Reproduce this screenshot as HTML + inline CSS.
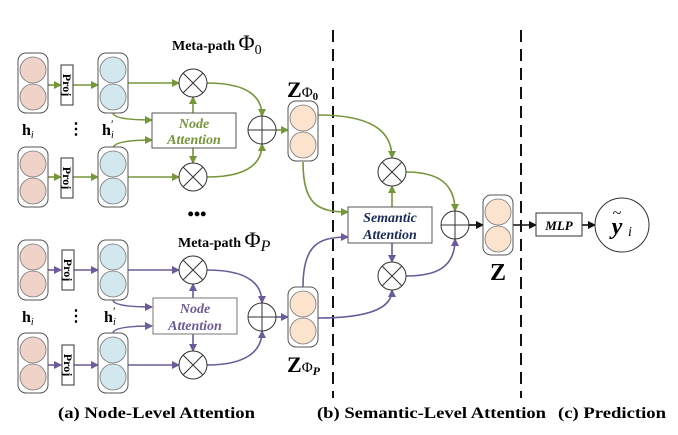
<!DOCTYPE html>
<html><head><meta charset="utf-8"><style>
html,body{margin:0;padding:0;background:#fff;width:678px;height:435px;overflow:hidden}
svg{display:block}
text{font-family:"Liberation Serif",serif}
</style></head><body>
<svg width="678" height="435" viewBox="0 0 678 435" xmlns="http://www.w3.org/2000/svg">
<defs>
<marker id="ag" markerWidth="8" markerHeight="8" refX="7" refY="4" orient="auto" markerUnits="userSpaceOnUse"><path d="M0,0 L8,4 L0,8 z" fill="#76963a"/></marker>
<marker id="ap" markerWidth="8" markerHeight="8" refX="7" refY="4" orient="auto" markerUnits="userSpaceOnUse"><path d="M0,0 L8,4 L0,8 z" fill="#6b5b9a"/></marker>
<marker id="ak" markerWidth="8" markerHeight="8" refX="7" refY="4" orient="auto" markerUnits="userSpaceOnUse"><path d="M0,0 L8,4 L0,8 z" fill="#111"/></marker>
<g id="pk"><rect x="0" y="0" width="30" height="60" rx="8" fill="#fff" stroke="#555" stroke-width="1"/><circle cx="15" cy="17" r="13" fill="#efd3c9" stroke="#777" stroke-width="0.8"/><circle cx="15" cy="44" r="13" fill="#efd3c9" stroke="#777" stroke-width="0.8"/></g>
<g id="bl"><rect x="0" y="0" width="30" height="60" rx="8" fill="#fff" stroke="#555" stroke-width="1"/><circle cx="15" cy="17" r="13" fill="#d3e7ee" stroke="#777" stroke-width="0.8"/><circle cx="15" cy="44" r="13" fill="#d3e7ee" stroke="#777" stroke-width="0.8"/></g>
<g id="pe"><rect x="0" y="0" width="30" height="60" rx="8" fill="#fff" stroke="#555" stroke-width="1"/><circle cx="15" cy="17" r="13" fill="#fbe3cd" stroke="#777" stroke-width="0.8"/><circle cx="15" cy="44" r="13" fill="#fbe3cd" stroke="#777" stroke-width="0.8"/></g>
<g id="ot"><circle cx="0" cy="0" r="14" fill="#fff" stroke="#333" stroke-width="1"/><path d="M-10,-10 L10,10 M-10,10 L10,-10" stroke="#333" stroke-width="1"/></g>
<g id="op"><circle cx="0" cy="0" r="14" fill="#fff" stroke="#333" stroke-width="1"/><path d="M-14,0 L14,0 M0,-14 L0,14" stroke="#333" stroke-width="1"/></g>
</defs>

<line x1="333" y1="30" x2="333" y2="398" stroke="#111" stroke-width="2" stroke-dasharray="12,7"/>
<line x1="521" y1="30" x2="521" y2="398" stroke="#111" stroke-width="2" stroke-dasharray="12,7"/>

<!-- TOP GROUP -->
<text x="172" y="50" font-size="14" font-weight="bold">Meta-path <tspan font-size="22" font-weight="normal">Φ</tspan><tspan font-size="14" font-weight="normal" dy="4">0</tspan></text>
<g fill="none" stroke="#76963a" stroke-width="1.6">
<line x1="48" y1="85" x2="61" y2="85" marker-end="url(#ag)"/>
<line x1="73" y1="85" x2="98" y2="85" marker-end="url(#ag)"/>
<line x1="128" y1="83" x2="179" y2="83" marker-end="url(#ag)"/>
<path d="M113,113 Q114,120 152,120" marker-end="url(#ag)"/>
<path d="M113,148 Q114,140 152,140" marker-end="url(#ag)"/>
<line x1="48" y1="177" x2="61" y2="177" marker-end="url(#ag)"/>
<line x1="73" y1="177" x2="98" y2="177" marker-end="url(#ag)"/>
<line x1="128" y1="177" x2="179" y2="177" marker-end="url(#ag)"/>
<line x1="193" y1="113" x2="193" y2="97" marker-end="url(#ag)"/>
<line x1="193" y1="148" x2="193" y2="163" marker-end="url(#ag)"/>
<path d="M207,83 C245,83 262,95 262,116" marker-end="url(#ag)"/>
<path d="M207,177 C245,177 262,165 262,144" marker-end="url(#ag)"/>
<line x1="276" y1="130" x2="288" y2="130" marker-end="url(#ag)"/>
<path d="M318,115 C370,115 392,130 392,158" marker-end="url(#ag)"/>
<path d="M303,162 C303,205 318,212 348,212" marker-end="url(#ag)"/>
<line x1="392" y1="207" x2="392" y2="186" marker-end="url(#ag)"/>
<path d="M406,172 C440,172 455,185 455,211" marker-end="url(#ag)"/>
</g>
<use href="#pk" x="18" y="53"/>
<use href="#bl" x="98" y="53"/>
<use href="#pk" x="18" y="147"/>
<use href="#bl" x="98" y="147"/>
<rect x="61" y="65" width="12" height="40" fill="#fff" stroke="#333"/>
<text x="67" y="85" font-size="12" font-weight="bold" transform="rotate(90 67 85)" text-anchor="middle" dy="4">Proj</text>
<rect x="61" y="158" width="12" height="40" fill="#fff" stroke="#333"/>
<text x="67" y="178" font-size="12" font-weight="bold" transform="rotate(90 67 178)" text-anchor="middle" dy="4">Proj</text>
<text x="22" y="135" font-size="16" font-weight="bold">h<tspan font-size="10" font-style="italic" font-weight="normal" dy="3">i</tspan></text>
<text x="68" y="134" font-size="16" font-weight="bold">⋮</text>
<text x="102" y="135" font-size="16" font-weight="bold">h</text>
<text x="111" y="128" font-size="12">′</text>
<text x="111" y="138" font-size="10" font-style="italic">i</text>
<rect x="152" y="113" width="84" height="35" fill="#fff" stroke="#555"/>
<text x="194" y="128" font-size="14" font-weight="bold" font-style="italic" fill="#76963a" text-anchor="middle">Node</text>
<text x="194" y="144" font-size="14" font-weight="bold" font-style="italic" fill="#76963a" text-anchor="middle">Attention</text>
<use href="#ot" x="193" y="83"/>
<use href="#ot" x="193" y="177"/>
<use href="#op" x="262" y="130"/>
<use href="#pe" x="288" y="101"/>
<text x="287" y="97" font-size="22" font-weight="bold">Z<tspan font-size="15" font-weight="normal">Φ</tspan><tspan font-size="11" dy="3">0</tspan></text>

<text x="197" y="220" font-size="18" font-weight="bold" text-anchor="middle">•••</text>

<!-- BOTTOM GROUP -->
<text x="178" y="247" font-size="14" font-weight="bold">Meta-path <tspan font-size="22" font-weight="normal">Φ</tspan><tspan font-size="16" font-style="italic" font-weight="normal" dy="4">P</tspan></text>
<g fill="none" stroke="#6b5b9a" stroke-width="1.6">
<line x1="48" y1="270" x2="61" y2="270" marker-end="url(#ap)"/>
<line x1="73" y1="270" x2="98" y2="270" marker-end="url(#ap)"/>
<line x1="128" y1="270" x2="179" y2="270" marker-end="url(#ap)"/>
<path d="M113,300 Q114,307 152,307" marker-end="url(#ap)"/>
<path d="M113,333 Q114,326 152,326" marker-end="url(#ap)"/>
<line x1="48" y1="365" x2="61" y2="365" marker-end="url(#ap)"/>
<line x1="73" y1="365" x2="98" y2="365" marker-end="url(#ap)"/>
<line x1="128" y1="365" x2="179" y2="365" marker-end="url(#ap)"/>
<line x1="193" y1="298" x2="193" y2="284" marker-end="url(#ap)"/>
<line x1="193" y1="334" x2="193" y2="351" marker-end="url(#ap)"/>
<path d="M207,270 C245,270 262,282 262,303" marker-end="url(#ap)"/>
<path d="M207,365 C245,365 262,352 262,331" marker-end="url(#ap)"/>
<line x1="276" y1="317" x2="288" y2="317" marker-end="url(#ap)"/>
<path d="M303,287 C303,245 318,237 348,237" marker-end="url(#ap)"/>
<path d="M318,318 C370,318 392,308 392,290" marker-end="url(#ap)"/>
<line x1="392" y1="243" x2="392" y2="262" marker-end="url(#ap)"/>
<path d="M406,276 C440,276 455,265 455,239" marker-end="url(#ap)"/>
</g>
<use href="#pk" x="18" y="240"/>
<use href="#bl" x="98" y="240"/>
<use href="#pk" x="18" y="333"/>
<use href="#bl" x="98" y="333"/>
<rect x="62" y="250" width="12" height="40" fill="#fff" stroke="#333"/>
<text x="68" y="270" font-size="12" font-weight="bold" transform="rotate(90 68 270)" text-anchor="middle" dy="4">Proj</text>
<rect x="62" y="345" width="12" height="40" fill="#fff" stroke="#333"/>
<text x="68" y="365" font-size="12" font-weight="bold" transform="rotate(90 68 365)" text-anchor="middle" dy="4">Proj</text>
<text x="22" y="322" font-size="16" font-weight="bold">h<tspan font-size="10" font-style="italic" font-weight="normal" dy="3">i</tspan></text>
<text x="68" y="321" font-size="16" font-weight="bold">⋮</text>
<text x="104" y="322" font-size="16" font-weight="bold">h</text>
<text x="113" y="315" font-size="12">′</text>
<text x="113" y="325" font-size="10" font-style="italic">i</text>
<rect x="153" y="298" width="84" height="36" fill="#fff" stroke="#777"/>
<text x="195" y="313" font-size="14" font-weight="bold" font-style="italic" fill="#6b5b9a" text-anchor="middle">Node</text>
<text x="195" y="330" font-size="14" font-weight="bold" font-style="italic" fill="#6b5b9a" text-anchor="middle">Attention</text>
<use href="#ot" x="193" y="270"/>
<use href="#ot" x="193" y="365"/>
<use href="#op" x="262" y="317"/>
<use href="#pe" x="288" y="287"/>
<text x="287" y="372" font-size="22" font-weight="bold">Z<tspan font-size="15" font-weight="normal">Φ</tspan><tspan font-size="12" font-style="italic" dy="3">P</tspan></text>

<!-- SEMANTIC -->
<rect x="348" y="207" width="84" height="36" fill="#fff" stroke="#555"/>
<text x="390" y="222" font-size="14" font-weight="bold" font-style="italic" fill="#1c2a5a" text-anchor="middle">Semantic</text>
<text x="390" y="239" font-size="14" font-weight="bold" font-style="italic" fill="#1c2a5a" text-anchor="middle">Attention</text>
<use href="#ot" x="392" y="172"/>
<use href="#ot" x="392" y="276"/>
<use href="#op" x="455" y="225"/>
<g fill="none" stroke="#111" stroke-width="1.6">
<line x1="469" y1="225" x2="483" y2="225" marker-end="url(#ak)"/>
<line x1="513" y1="225" x2="536" y2="225" marker-end="url(#ak)"/>
<line x1="582" y1="225" x2="595" y2="225" marker-end="url(#ak)"/>
</g>
<use href="#pe" x="483" y="195"/>
<text x="498" y="280" font-size="24" font-weight="bold" text-anchor="middle">Z</text>
<rect x="536" y="213" width="46" height="23" fill="#fff" stroke="#333"/>
<text x="559" y="230" font-size="13" font-weight="bold" font-style="italic" text-anchor="middle">MLP</text>
<circle cx="622" cy="225" r="27" fill="#fff" stroke="#333"/>
<text x="617" y="234" font-size="24" font-weight="bold" font-style="italic" text-anchor="middle">y</text>
<text x="617" y="218" font-size="16" text-anchor="middle">~</text>
<text x="628" y="236" font-size="14" font-style="italic">i</text>

<!-- captions -->
<text x="58" y="418" font-size="16" font-weight="bold" textLength="197" lengthAdjust="spacingAndGlyphs">(a) Node-Level Attention</text>
<text x="317" y="418" font-size="16" font-weight="bold" textLength="229" lengthAdjust="spacingAndGlyphs">(b) Semantic-Level Attention</text>
<text x="558" y="418" font-size="16" font-weight="bold" textLength="108" lengthAdjust="spacingAndGlyphs">(c) Prediction</text>
</svg>
</body></html>
